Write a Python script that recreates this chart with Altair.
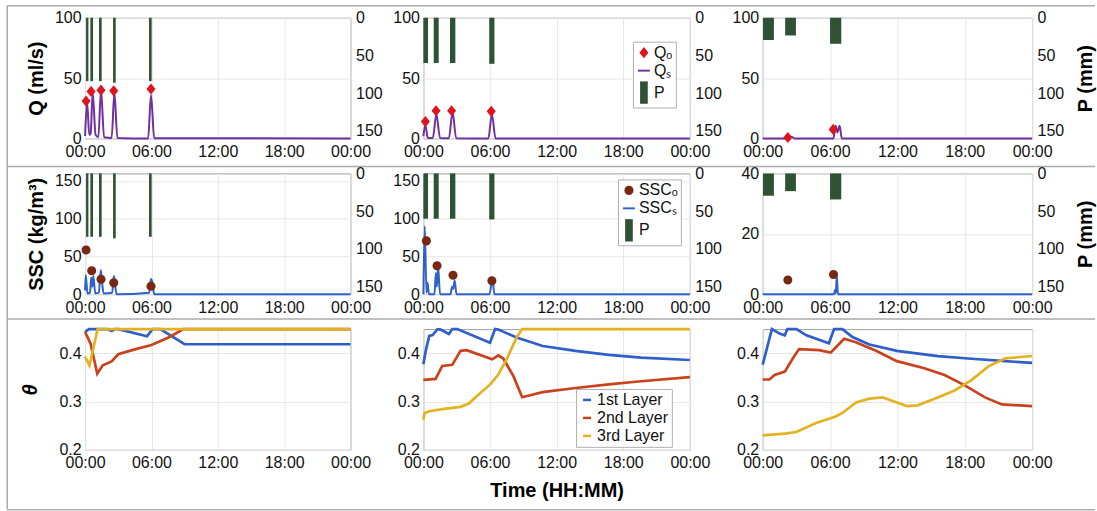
import altair as alt
import pandas as pd

FONT = "Liberation Sans"
TICK_HOURS = [0, 6, 12, 18, 24]
LABEL_EXPR = "datum.value == 24 ? '00:00' : (datum.value < 10 ? '0' : '') + datum.value + ':00'"
Q_TICKS = [0, 50, 100]
SSC_TICKS = [0, 50, 100, 150]
SSC3_TICKS = [0, 20, 40]
P_TICKS = [0, 50, 100, 150]
THETA_TICKS = [0.2, 0.3, 0.4]

# ---------------- rainfall bars (hours, mm) ----------------
P1_START = [0.09, 0.48, 1.26, 2.53, 5.78]
P1_END = [0.30, 0.72, 1.50, 2.77, 6.02]
P1_MM = [84, 84, 84, 86, 84]
P2_START = [0.0, 0.93, 2.40, 5.93]
P2_END = [0.42, 1.38, 2.88, 6.40]
P2_MM = [60, 60, 60, 61]
P3_START = [0.03, 2.00, 6.00]
P3_END = [1.00, 2.96, 7.00]
P3_MM = [29.5, 23.5, 34.5]

# ---------------- discharge (ml/s) ----------------
QS1_T = [0.0, 0.18, 0.38, 0.5, 0.69, 0.95, 1.2, 1.44, 1.72, 2.4, 2.65, 2.92, 5.7, 5.96, 6.25, 24]
QS1_V = [2, 30, 3, 4, 38, 3, 1, 40, 1, 0.5, 38, 0.5, 0, 36, 0.3, 0]
QO1_T = [0.09, 0.54, 1.44, 2.59, 5.96]
QO1_V = [31, 39, 40, 39.5, 41]

QS2_T = [0.0, 0.18, 0.4, 0.85, 1.17, 1.5, 2.3, 2.63, 2.95, 5.85, 6.17, 6.5, 24]
QS2_V = [2, 11, 0.5, 0.5, 20, 0.5, 0.3, 22, 0.3, 0, 20, 0, 0]
QO2_T = [0.18, 1.14, 2.54, 6.11]
QO2_V = [14, 23, 23, 22.5]

QS3_T = [0, 2.3, 2.55, 2.85, 6.3, 6.5, 6.65, 6.85, 7.05, 24]
QS3_V = [0, 0, 1.5, 0, 0, 10.5, 5, 10.5, 0, 0]
QO3_T = [2.24, 6.28]
QO3_V = [0.8, 7.5]

# ---------------- sediment concentration (kg/m3) ----------------
SS1_T = [0.0, 0.06, 0.22, 0.45, 0.55, 0.65, 0.75, 0.92, 1.25, 1.42, 1.55, 1.68, 2.45, 2.6, 2.7, 2.85, 5.8, 5.95, 6.1, 6.25, 24]
SS1_V = [5, 25, 1, 2, 22, 10, 24, 1, 2, 32, 14, 1, 2, 24, 14, 0, 2, 20, 15, 0, 0]
SO1_T = [0.09, 0.6, 1.44, 2.59, 5.96]
SO1_V = [58.6, 31, 19.7, 15, 10.6]

SS2_T = [0.0, 0.12, 0.28, 0.38, 0.5, 1.0, 1.12, 1.22, 1.32, 1.5, 2.45, 2.58, 2.68, 2.82, 2.98, 5.95, 6.22, 6.4, 24]
SS2_V = [0, 90, 2, 15, 0, 0, 28, 10, 38, 0, 0, 10, 7, 18, 0, 0, 20, 0, 0]
SO2_T = [0.27, 1.23, 2.67, 6.17]
SO2_V = [70.6, 37.6, 25.1, 17.7]

SS3_T = [0, 6.35, 6.45, 6.52, 6.6, 6.7, 24]
SS3_V = [0, 0, 1.5, 0.3, 6.2, 0, 0]
SO3_T = [2.24, 6.31]
SO3_V = [4.7, 6.5]

# ---------------- soil moisture theta ----------------
LAYERS = ["1st Layer", "2nd Layer", "3rd Layer"]
TH1A_T = [0, 0.35, 2.0, 2.4, 2.7, 3.0, 5.6, 6.1, 6.8, 9.0, 24]
TH1A_V = [0.444, 0.45, 0.45, 0.446, 0.45, 0.45, 0.435, 0.45, 0.45, 0.4186, 0.4186]
TH1B_T = [0, 0.5, 1.1, 1.6, 2.4, 3.0, 4.5, 6.0, 7.5, 8.9, 24]
TH1B_V = [0.444, 0.42, 0.358, 0.375, 0.383, 0.398, 0.408, 0.417, 0.432, 0.45, 0.45]
TH1C_T = [0, 0.4, 1.13, 24]
TH1C_V = [0.393, 0.3745, 0.45, 0.45]

TH2A_T = [0, 0.24, 0.53, 0.83, 1.27, 1.55, 2.3, 2.6, 3.05, 6.0, 6.46, 6.75, 8.4, 10.75, 13.7, 16.7, 19.6, 24]
TH2A_V = [0.377, 0.408, 0.436, 0.4375, 0.45, 0.449, 0.44, 0.45, 0.45, 0.422, 0.45, 0.449, 0.4326, 0.415, 0.405, 0.3965, 0.391, 0.386]
TH2B_T = [0, 1.1, 1.7, 2.6, 3.35, 3.9, 6.2, 6.75, 7.2, 8.1, 8.9, 10.75, 13.7, 16.7, 19.6, 24]
TH2B_V = [0.345, 0.347, 0.3736, 0.376, 0.405, 0.4065, 0.3875, 0.3958, 0.389, 0.353, 0.309, 0.3194, 0.328, 0.3354, 0.342, 0.3507]
TH2C_T = [0, 0.1, 0.53, 1.87, 3.35, 4.1, 4.8, 6.0, 6.75, 7.5, 8.4, 8.9, 24]
TH2C_V = [0.2625, 0.276, 0.28, 0.2847, 0.289, 0.2958, 0.311, 0.335, 0.356, 0.3875, 0.4326, 0.45, 0.45]

TH3A_T = [0, 0.82, 1.5, 1.97, 2.2, 3.0, 3.9, 5.9, 6.36, 7.1, 8.0, 9.5, 11.95, 15.6, 18.6, 21.6, 24]
TH3A_V = [0.3764, 0.45, 0.4407, 0.437, 0.45, 0.45, 0.437, 0.4207, 0.45, 0.45, 0.4336, 0.418, 0.405, 0.394, 0.3886, 0.3836, 0.38]
TH3B_T = [0, 0.6, 1.06, 1.97, 2.72, 3.24, 5.0, 6.06, 6.5, 7.26, 8.3, 10.1, 11.95, 14.4, 16.2, 18.0, 19.8, 21.3, 24]
TH3B_V = [0.3457, 0.3457, 0.355, 0.362, 0.3907, 0.4086, 0.4064, 0.4014, 0.412, 0.43, 0.4229, 0.405, 0.3836, 0.369, 0.355, 0.3336, 0.3086, 0.294, 0.2907]
TH3C_T = [0, 1.97, 3.0, 4.7, 6.5, 7.1, 8.3, 9.5, 10.7, 11.95, 12.86, 13.8, 15.6, 17.1, 18.6, 20.1, 21.6, 24]
TH3C_V = [0.23, 0.2336, 0.237, 0.255, 0.269, 0.2764, 0.2979, 0.306, 0.3086, 0.2979, 0.2907, 0.2921, 0.3086, 0.3229, 0.3443, 0.3729, 0.3893, 0.3943]

# ---------------- styling ----------------
P_COLOR = "#2f5234"
QO_COLOR = "#e0141e"
QS_COLOR = "#7030a0"
SO_COLOR = "#7a2712"
SS_COLOR = "#2e62c8"
LAYER_COLORS = ["#2f5fc8", "#c8431b", "#e3b224"]
FRAME_COLOR = "#ababab"

DIAMOND = "M0,-0.8L0.65,0L0,0.8L-0.65,0Z"
DOT = "M-0.65,0A0.65,0.65 0 1,0 0.65,0A0.65,0.65 0 1,0 -0.65,0Z"
DASH = "M-0.85,-0.14H0.85V0.14H-0.85Z"
BAR = "M-0.55,-1.6H0.55V1.6H-0.55Z"
PT_SIZE = 196

WIDTHS = [266, 267, 270]
H = 121


def xenc(field, title=None):
    return alt.X(
        f"{field}:Q",
        scale=alt.Scale(domain=[0, 24], nice=False, zero=False),
        axis=alt.Axis(values=TICK_HOURS, labelExpr=LABEL_EXPR, grid=True, title=title,
                      labelPadding=5, labelFlush=False, titlePadding=10),
    )


def frame_rules():
    kw = dict(color=FRAME_COLOR, strokeWidth=1.5)
    rules = []
    for yv in [-12, 149, 302, 493]:
        rules.append(alt.Chart().mark_rule(**kw).encode(x=alt.value(-78), x2=alt.value(1012), y=alt.value(yv)))
    rules.append(alt.Chart().mark_rule(**kw).encode(x=alt.value(-78), y=alt.value(-12), y2=alt.value(493)))
    return rules


def flow_panel(width, lt, lv, ot, ov, ps, pe, pm, ydom, yvals, ytitle, ptitle,
               names, sim_color, obs_color, obs_shape, legend=None, frame=False):
    line_df = pd.DataFrame({"t": lt, "v": lv})
    obs_df = pd.DataFrame({"t": ot, "v": ov, "s": names[0]})
    rain_df = pd.DataFrame({"t0": ps, "t1": pe, "p": pm})
    y = alt.Y("v:Q", scale=alt.Scale(domain=ydom, nice=False, zero=False),
              axis=alt.Axis(orient="left", values=yvals, grid=True, title=ytitle,
                            labelPadding=4, titlePadding=8))
    bars = alt.Chart(rain_df).mark_rect(color=P_COLOR).encode(
        x=xenc("t0"), x2="t1:Q",
        y=alt.Y("p:Q", scale=alt.Scale(domain=[0, 160], reverse=True, nice=False, zero=False),
                axis=alt.Axis(orient="right", values=P_TICKS, grid=False, title=ptitle,
                              titleAngle=270, titleBaseline="top", titlePadding=12, labelPadding=5)),
        y2=alt.datum(0),
    )
    line = alt.Chart(line_df).mark_line(color=sim_color, strokeWidth=2, interpolate="monotone").encode(
        x=xenc("t"), y=y)
    if legend is not None:
        dom = [names[0], names[1], "P"]
        color = alt.Color("s:N", scale=alt.Scale(domain=dom, range=[obs_color, sim_color, P_COLOR]), legend=legend)
        shape = alt.Shape("s:N", scale=alt.Scale(domain=dom, range=[obs_shape, DASH, BAR]), legend=legend)
    else:
        color = alt.value(obs_color)
        shape = alt.value(obs_shape)
    pts = alt.Chart(obs_df).mark_point(filled=True, opacity=1, size=PT_SIZE).encode(
        x=xenc("t"), y=y, color=color, shape=shape)
    layers = [bars, alt.layer(line, pts)]
    if frame:
        layers += frame_rules()
    return alt.layer(*layers).resolve_scale(y="independent").properties(width=width, height=H)


def theta_panel(width, series, ytitle=None, xtitle=None, legend=None):
    rows = []
    for name, (ts, vs) in zip(LAYERS, series):
        for t, v in zip(ts, vs):
            rows.append({"t": t, "v": v, "s": name})
    df = pd.DataFrame(rows)
    return alt.Chart(df).mark_line(strokeWidth=2.7).encode(
        x=xenc("t", xtitle),
        y=alt.Y("v:Q", scale=alt.Scale(domain=[0.2, 0.45], nice=False, zero=False),
                axis=alt.Axis(orient="left", values=THETA_TICKS, format=".1f", grid=True, title=ytitle,
                              titleFontStyle="italic", titlePadding=18, labelPadding=4)),
        color=alt.Color("s:N", scale=alt.Scale(domain=LAYERS, range=LAYER_COLORS), legend=legend),
    ).properties(width=width, height=H)


def box_legend(x, y, **kw):
    return alt.Legend(title=None, orient="none", legendX=x, legendY=y, padding=3,
                      strokeColor="#b0b0b0", fillColor="white", labelFontSize=16,
                      labelOffset=2, rowPadding=2, symbolOpacity=1, **kw)


q_legend = box_legend(210, 24, symbolSize=PT_SIZE, symbolStrokeWidth=0)
s_legend = box_legend(195, 6, symbolSize=PT_SIZE, symbolStrokeWidth=0)
t_legend = box_legend(153, 60, symbolType="stroke", symbolSize=64, symbolStrokeWidth=2.5)

Q_NAMES = ["Q\u2092", "Q\u209b"]
S_NAMES = ["SSC\u2092", "SSC\u209b"]

panels = [
    flow_panel(WIDTHS[0], QS1_T, QS1_V, QO1_T, QO1_V, P1_START, P1_END, P1_MM, [0, 100], Q_TICKS,
               "Q (ml/s)", None, Q_NAMES, QS_COLOR, QO_COLOR, DIAMOND, frame=True),
    flow_panel(WIDTHS[1], QS2_T, QS2_V, QO2_T, QO2_V, P2_START, P2_END, P2_MM, [0, 100], Q_TICKS,
               None, None, Q_NAMES, QS_COLOR, QO_COLOR, DIAMOND, legend=q_legend),
    flow_panel(WIDTHS[2], QS3_T, QS3_V, QO3_T, QO3_V, P3_START, P3_END, P3_MM, [0, 100], Q_TICKS,
               None, "P (mm)", Q_NAMES, QS_COLOR, QO_COLOR, DIAMOND),
    flow_panel(WIDTHS[0], SS1_T, SS1_V, SO1_T, SO1_V, P1_START, P1_END, P1_MM, [0, 160], SSC_TICKS,
               "SSC (kg/m\u00b3)", None, S_NAMES, SS_COLOR, SO_COLOR, DOT),
    flow_panel(WIDTHS[1], SS2_T, SS2_V, SO2_T, SO2_V, P2_START, P2_END, P2_MM, [0, 160], SSC_TICKS,
               None, None, S_NAMES, SS_COLOR, SO_COLOR, DOT, legend=s_legend),
    flow_panel(WIDTHS[2], SS3_T, SS3_V, SO3_T, SO3_V, P3_START, P3_END, P3_MM, [0, 40], SSC3_TICKS,
               None, "P (mm)", S_NAMES, SS_COLOR, SO_COLOR, DOT),
    theta_panel(WIDTHS[0], [(TH1A_T, TH1A_V), (TH1B_T, TH1B_V), (TH1C_T, TH1C_V)], ytitle="\u03b8"),
    theta_panel(WIDTHS[1], [(TH2A_T, TH2A_V), (TH2B_T, TH2B_V), (TH2C_T, TH2C_V)],
                xtitle="Time (HH:MM)", legend=t_legend),
    theta_panel(WIDTHS[2], [(TH3A_T, TH3A_V), (TH3B_T, TH3B_V), (TH3C_T, TH3C_V)]),
]

chart = alt.concat(
    *panels, columns=3, spacing={"row": 35, "column": 73}, bounds="flush", align="each"
).resolve_scale(
    color="independent", shape="independent"
).properties(
    padding={"left": 5.25, "top": 3.25, "right": 0, "bottom": 0}
).configure_view(
    stroke="#a0a0a0", strokeWidth=1
).configure_axis(
    labelFont=FONT, labelFontSize=16, labelColor="#111111",
    titleFont=FONT, titleFontSize=20, titleFontWeight="bold", titleColor="#000000",
    ticks=False, domain=False, gridColor="#e6e6e6", gridWidth=1,
).configure_legend(
    labelFont=FONT, labelFontSize=16, labelColor="#111111"
)

chart.save("out.html", embed_options={"renderer": "svg", "actions": False})
